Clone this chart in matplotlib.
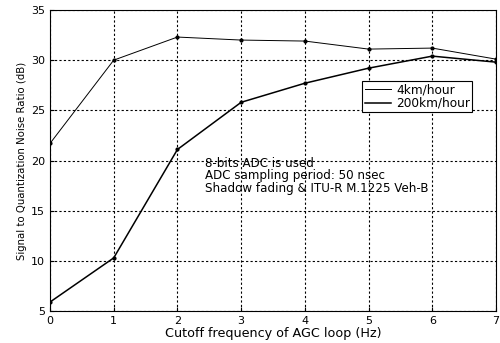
import matplotlib
matplotlib.use('Agg')
import matplotlib.pyplot as plt

plt.rcParams['font.family'] = ['DejaVu Sans']

cutoff = [0, 1, 2, 3, 4, 5, 6, 7]
snr_4kmh = [21.7, 30.0, 32.3, 32.0, 31.9, 31.1, 31.2, 30.1]
snr_200kmh = [5.9, 10.3, 21.1, 25.8, 27.7, 29.2, 30.4, 29.8]

fig = plt.figure(figsize=(5, 3.43), dpi=100)
ax = fig.add_axes([0.1, 0.093, 0.892, 0.878])

ax.plot(cutoff, snr_4kmh, color='black', lw=0.7, marker='.', ms=4, label='4km/hour')
ax.plot(cutoff, snr_200kmh, color='black', lw=1.1, marker='.', ms=4, label='200km/hour')

ax.set_xlim(0, 7)
ax.set_ylim(5, 35)
ax.set_xticks(range(0, 8))
ax.set_yticks(range(5, 36, 5))
ax.grid(True, color='black', linestyle=(0, (2, 2)), lw=0.8)
ax.tick_params(direction='in', labelsize=8, length=3)
for s in ax.spines.values():
    s.set_linewidth(0.8)

ax.set_xlabel('Cutoff frequency of AGC loop (Hz)', fontsize=9.2, labelpad=1)
ax.set_ylabel('Signal to Quantization Noise Ratio (dB)', fontsize=7.3, labelpad=3)

leg = ax.legend(loc='upper left', bbox_to_anchor=(0.70, 0.765), fontsize=8.7,
                fancybox=False, framealpha=1, edgecolor='black',
                handlelength=2.2, handletextpad=0.4, borderpad=0.2,
                labelspacing=0.05, borderaxespad=0)
leg.get_frame().set_linewidth(0.8)
for h in leg.legend_handles:
    h.set_marker('')

ax.text(2.43, 20.4, '8-bits ADC is used\nADC sampling period: 50 nsec\nShadow fading & ITU-R M.1225 Veh-B',
        fontsize=8.6, va='top', ha='left', linespacing=0.95)

fig.savefig('out.png', dpi=100)
